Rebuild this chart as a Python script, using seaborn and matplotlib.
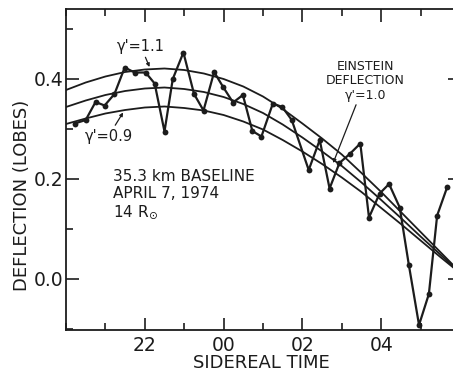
import numpy as np
import pandas as pd
import seaborn as sns
import matplotlib
matplotlib.use("Agg")
import matplotlib.pyplot as plt
from matplotlib.ticker import MultipleLocator, FixedLocator

# Observed deflection, 15-minute samples (sidereal hours, past midnight > 24)
obs_time = [20.22, 20.50, 20.75, 20.98, 21.23, 21.49, 21.74, 22.02, 22.25, 22.50,
            22.71, 22.98, 23.25, 23.49, 23.76, 23.98, 24.24, 24.49, 24.73, 24.96,
            25.25, 25.49, 25.73, 26.16, 26.44, 26.69, 26.94, 27.20, 27.47, 27.69,
            27.96, 28.20, 28.47, 28.70, 28.96, 29.21, 29.42, 29.68]
obs_defl = [0.311, 0.318, 0.354, 0.347, 0.370, 0.423, 0.413, 0.413, 0.391, 0.295,
            0.400, 0.453, 0.370, 0.337, 0.414, 0.385, 0.353, 0.368, 0.296, 0.285,
            0.351, 0.344, 0.318, 0.218, 0.278, 0.181, 0.232, 0.250, 0.271, 0.123,
            0.171, 0.190, 0.143, 0.029, -0.092, -0.030, 0.127, 0.185]

# Predicted deflection curves for three values of gamma'
model_time = [20.0, 20.5, 21.0, 21.5, 22.0, 22.5, 23.0, 23.5, 24.0, 24.5, 25.0,
              25.5, 26.0, 26.5, 27.0, 27.5, 28.0, 28.5, 29.0, 29.5, 30.0]
model_g11 = [0.378, 0.393, 0.405, 0.414, 0.419, 0.421, 0.418, 0.411, 0.400, 0.385, 0.365,
             0.340, 0.311, 0.281, 0.249, 0.212, 0.174, 0.134, 0.094, 0.054, 0.014]
model_g10 = [0.344, 0.357, 0.368, 0.376, 0.381, 0.383, 0.380, 0.374, 0.364, 0.350, 0.332,
             0.309, 0.283, 0.255, 0.226, 0.193, 0.158, 0.122, 0.085, 0.049, 0.013]
model_g09 = [0.310, 0.321, 0.331, 0.338, 0.343, 0.345, 0.342, 0.337, 0.328, 0.315, 0.299,
             0.278, 0.255, 0.230, 0.203, 0.174, 0.142, 0.110, 0.077, 0.044, 0.012]

xtick_pos = [22, 24, 26, 28]
xtick_labels = ["22", "00", "02", "04"]
ytick_pos = [0.0, 0.2, 0.4]
ytick_labels = ["0.0", "0.2", "0.4"]

sns.set_theme(style="ticks")
plt.rcParams["font.family"] = ["DejaVu Sans"]
ink = "#1c1c1c"

fig = plt.figure(figsize=(4.53, 3.74), dpi=100)
ax = fig.add_axes([66 / 453, 44 / 374, (460 - 66) / 453, (330 - 9) / 374])

models = pd.DataFrame({
    "time": model_time * 3,
    "defl": model_g11 + model_g10 + model_g09,
    "gamma": ["1.1"] * len(model_time) + ["1.0"] * len(model_time) + ["0.9"] * len(model_time),
})
sns.lineplot(data=models, x="time", y="defl", units="gamma", estimator=None,
             color=ink, lw=1.3, ax=ax, legend=False)

obs = pd.DataFrame({"time": obs_time, "defl": obs_defl})
sns.lineplot(data=obs, x="time", y="defl", color=ink, lw=1.6, marker="o",
             markersize=4.2, markeredgewidth=0, sort=False, ax=ax)

ax.set_xlim(20, 30)
ax.set_ylim(-0.102, 0.54)
ax.xaxis.set_major_locator(FixedLocator(xtick_pos))
ax.set_xticklabels(xtick_labels)
ax.xaxis.set_minor_locator(MultipleLocator(1))
ax.yaxis.set_major_locator(FixedLocator(ytick_pos))
ax.set_yticklabels(ytick_labels)
ax.yaxis.set_minor_locator(MultipleLocator(0.1))
ax.tick_params(which="both", direction="in", top=True, right=True, colors=ink,
               labelsize=13.5, width=1.2)
ax.tick_params(axis="x", pad=4)
ax.tick_params(axis="y", pad=2)
ax.tick_params(which="major", length=9)
ax.tick_params(which="minor", length=5)
for s in ax.spines.values():
    s.set_color(ink)
    s.set_linewidth(1.3)

ax.set_xlabel("")
ax.set_ylabel("")
fig.text(261 / 453, 1 - 363 / 374, "SIDEREAL TIME", fontsize=13, color=ink,
         ha="center", va="center")
fig.text(22 / 453, 1 - 195 / 374, "DEFLECTION (LOBES)", fontsize=13, color=ink,
         ha="center", va="center", rotation=90)

arrow = dict(arrowstyle="-|>", color=ink, lw=0.9, mutation_scale=5, shrinkA=0, shrinkB=0)
ax.annotate("γ'=1.1", xy=(22.12, 0.424), xytext=(21.9, 0.465), fontsize=10.5,
            color=ink, ha="center", va="center", arrowprops=arrow)
ax.annotate("γ'=0.9", xy=(21.45, 0.333), xytext=(21.08, 0.286), fontsize=10.5,
            color=ink, ha="center", va="center", arrowprops=arrow)
ax.annotate("EINSTEIN\nDEFLECTION\nγ'=1.0", xy=(26.78, 0.232), xytext=(27.6, 0.355),
            fontsize=9, color=ink, ha="center", va="bottom", linespacing=1.1,
            arrowprops=arrow)
ax.text(21.2, 0.168, "35.3 km BASELINE\nAPRIL 7, 1974\n14 R$_{\\odot}$", fontsize=11,
        color=ink, ha="left", va="center", linespacing=1.15)

fig.savefig("out.png", dpi=100)
